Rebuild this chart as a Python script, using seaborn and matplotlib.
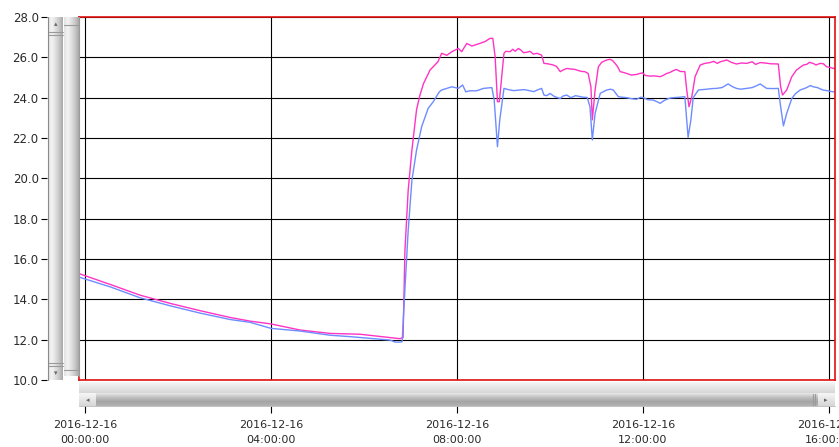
import numpy as np
import pandas as pd
import matplotlib
matplotlib.use("Agg")
import matplotlib.pyplot as plt
import seaborn as sns
from matplotlib.colors import LinearSegmentedColormap

# ---- data (hours since 2016-12-16 00:00:00, temperature) ----
t_mag = [-0.11, 0.54, 1.18, 1.83, 2.47, 3.12, 3.55, 4.00, 4.62, 5.27, 5.91, 6.56, 6.77, 6.84,
         6.88, 6.95, 7.03, 7.13, 7.20, 7.28, 7.42, 7.59, 7.67, 7.78, 7.89, 8.03, 8.10, 8.21,
         8.32, 8.49, 8.60, 8.71, 8.77, 8.82, 8.87, 8.91, 9.01, 9.14, 9.32, 9.43, 9.64, 9.82,
         9.87, 10.07, 10.22, 10.36, 10.54, 10.75, 10.82, 10.88, 10.91, 10.97, 11.04, 11.18,
         11.29, 11.40, 11.51, 11.65, 11.86, 11.99, 12.15, 12.37, 12.51, 12.65, 12.90, 12.94,
         12.99, 13.05, 13.12, 13.23, 13.44, 13.66, 13.80, 14.01, 14.23, 14.52, 14.91, 14.96,
         15.00, 15.09, 15.20, 15.30, 15.45, 15.66, 15.81, 15.95, 16.09, 16.15,
         9.05, 9.20, 9.25, 9.38, 9.50, 9.57, 9.72, 9.95, 10.14, 10.29, 10.45, 10.60, 10.68,
         11.11, 11.24, 11.34, 11.45, 11.58, 11.75, 11.93, 12.05, 12.25, 12.43, 12.58, 12.72,
         12.80, 13.33, 13.52, 13.60, 13.73, 13.90, 14.12, 14.35, 14.42, 14.62, 14.75, 15.52,
         15.58, 15.72, 15.88, 16.02]
v_mag = [15.26, 14.74, 14.21, 13.80, 13.44, 13.10, 12.92, 12.78, 12.48, 12.31, 12.27, 12.10, 12.05, 12.10,
         16.40, 19.40, 21.40, 23.40, 24.10, 24.70, 25.37, 25.78, 26.20, 26.10, 26.28, 26.44, 26.28, 26.69,
         26.56, 26.69, 26.78, 26.94, 26.94, 26.03, 23.80, 23.80, 26.20, 26.28, 26.44, 26.23, 26.16, 26.11,
         25.70, 25.62, 25.29, 25.45, 25.40, 25.29, 25.20, 24.54, 22.90, 24.38, 25.53, 25.83,
         25.90, 25.70, 25.29, 25.20, 25.15, 25.23, 25.07, 25.04, 25.20, 25.34, 25.29, 24.38,
         23.55, 24.05, 25.04, 25.62, 25.74, 25.78, 25.87, 25.67, 25.70, 25.74, 25.67, 24.54,
         24.13, 24.38, 25.04, 25.37, 25.62, 25.70, 25.70, 25.53, 25.45, 25.45,
         26.30, 26.40, 26.30, 26.35, 26.25, 26.30, 26.20, 25.68, 25.55, 25.38, 25.42, 25.35, 25.30,
         25.75, 25.88, 25.85, 25.55, 25.25, 25.12, 25.20, 25.10, 25.08, 25.10, 25.25, 25.40,
         25.30, 25.70, 25.80, 25.70, 25.82, 25.75, 25.72, 25.78, 25.65, 25.72, 25.68, 25.65,
         25.75, 25.62, 25.68, 25.50]

t_blu = [-0.11, 0.54, 1.18, 1.83, 2.47, 3.12, 3.55, 4.00, 4.62, 5.27, 5.70, 6.56, 6.67, 6.77, 6.82,
         6.88, 6.95, 7.03, 7.13, 7.24, 7.38, 7.49, 7.62, 7.67, 7.89, 8.03, 8.12, 8.19, 8.28,
         8.42, 8.57, 8.75, 8.80, 8.87, 8.92, 9.01, 9.14, 9.35, 9.57, 9.82, 9.87, 10.00, 10.22,
         10.36, 10.65, 10.80, 10.86, 10.91, 10.97, 11.08, 11.22, 11.36, 11.47, 11.65, 11.86,
         12.01, 12.22, 12.37, 12.51, 12.65, 12.90, 12.94, 12.97, 13.03, 13.08, 13.19, 13.37,
         13.58, 13.83, 14.01, 14.23, 14.52, 14.66, 14.91, 14.96, 15.02, 15.09, 15.20, 15.38,
         15.66, 15.87, 16.09, 16.15,
         9.07, 9.22, 9.45, 9.65, 9.75, 9.93, 10.10, 10.28, 10.45, 10.55, 10.72, 11.15, 11.30,
         11.55, 11.75, 11.95, 12.10, 12.30, 12.45, 12.58, 12.78, 13.28, 13.48, 13.70, 13.92,
         14.10, 14.35, 14.45, 14.60, 14.80, 15.28, 15.50, 15.60, 15.75, 15.95]
v_blu = [15.09, 14.62, 14.08, 13.68, 13.32, 13.00, 12.86, 12.56, 12.43, 12.22, 12.15, 11.98, 11.88, 11.88, 11.90,
         14.50, 17.40, 19.90, 21.40, 22.56, 23.47, 23.80, 24.29, 24.38, 24.54, 24.46, 24.63, 24.29, 24.34,
         24.34, 24.46, 24.50, 23.88, 21.57, 22.90, 24.46, 24.38, 24.38, 24.34, 24.46, 24.13, 24.21, 23.96,
         24.13, 24.05, 24.01, 23.55, 21.90, 23.22, 24.21, 24.38, 24.38, 24.05, 24.00, 23.92,
         24.00, 23.88, 23.72, 23.92, 24.00, 24.05, 22.90, 22.03, 22.90, 24.00, 24.38, 24.42,
         24.46, 24.68, 24.46, 24.46, 24.68, 24.46, 24.46, 23.55, 22.60, 23.22, 23.96, 24.38,
         24.54, 24.38, 24.29, 24.29,
         24.42, 24.35, 24.40, 24.30, 24.40, 24.10, 24.05, 24.08, 24.00, 24.10, 24.02, 24.30, 24.42,
         24.02, 23.95, 24.02, 23.90, 23.80, 23.85, 23.98, 24.02, 24.40, 24.45, 24.50, 24.55,
         24.42, 24.50, 24.60, 24.55, 24.45, 24.20, 24.48, 24.60, 24.50, 24.35]

x_ticks = [0, 4, 8, 12, 16]
x_labels = ["2016-12-16\n00:00:00", "2016-12-16\n04:00:00", "2016-12-16\n08:00:00",
            "2016-12-16\n12:00:00", "2016-12-16\n16:00:00"]
y_ticks = [10, 12, 14, 16, 18, 20, 22, 24, 26, 28]
y_labels = ["10.0", "12.0", "14.0", "16.0", "18.0", "20.0", "22.0", "24.0", "26.0", "28.0"]

df = pd.concat([
    pd.DataFrame({"t": t_mag, "v": v_mag, "s": "A"}),
    pd.DataFrame({"t": t_blu, "v": v_blu, "s": "B"}),
])

sns.set_theme(style="white")
plt.rcParams['font.family'] = ['DejaVu Sans']

W, H = 839, 447
fig = plt.figure(figsize=(W / 100, H / 100), dpi=100)
fig.patch.set_facecolor("white")

def fa(x0, y0, x1, y1):
    return [x0 / W, 1 - y1 / H, (x1 - x0) / W, (y1 - y0) / H]

PL, PR, PT, PB = 79, 835, 17, 380
xmin = (PL - 85) / 46.5
xmax = (PR - 85) / 46.5

ax = fig.add_axes(fa(PL, PT, PR, PB))
sns.lineplot(data=df, x="t", y="v", hue="s", palette={"A": "#ff33c4", "B": "#6d8cff"},
             linewidth=1.0, legend=False, ax=ax, estimator=None, sort=True)
ax.set_xlim(xmin, xmax)
ax.set_ylim(10, 28)
ax.set_xticks(x_ticks)
ax.set_yticks(y_ticks)
ax.set_xticklabels([])
ax.set_yticklabels([])
ax.tick_params(length=0)
ax.set_xlabel("")
ax.set_ylabel("")
ax.grid(True, color="black", linewidth=0.8, zorder=0)
ax.set_axisbelow(True)
for s in ["top", "bottom", "right", "left"]:
    ax.spines[s].set_color("#e01010")
    ax.spines[s].set_linewidth(1.2)

# y tick labels axis (left of the scrollbars)
yax = fig.add_axes(fa(47, PT, 48, PB))
yax.set_ylim(10, 28)
yax.set_yticks(y_ticks)
yax.set_yticklabels(y_labels, fontsize=8.5, color="#2a2a2a")
yax.set_xticks([])
yax.tick_params(axis="y", length=4, width=0.8, color="black", pad=2, left=True)
for s in yax.spines.values():
    s.set_visible(False)
yax.patch.set_visible(False)

# x tick labels axis (below the horizontal scrollbar)
xax = fig.add_axes(fa(PL, 405, PR, 406))
xax.set_xlim(xmin, xmax)
xax.set_xticks(x_ticks)
xax.set_xticklabels(x_labels, fontsize=8, color="#2a2a2a", linespacing=1.7)
xax.set_yticks([])
xax.tick_params(axis="x", length=5, width=0.8, color="black", pad=5, bottom=True)
for s in xax.spines.values():
    s.set_visible(False)
xax.patch.set_visible(False)

# decorative scrollbars (overlay in pixel coordinates)
ov = fig.add_axes([0, 0, 1, 1], zorder=5)
ov.set_xlim(0, W)
ov.set_ylim(H, 0)
ov.axis("off")
ov.patch.set_visible(False)
cm_v = LinearSegmentedColormap.from_list("v", ["#e2e2e2", "#f4f4f4", "#e0e0e0", "#c8c8c8", "#a8a8a8"])
cm_h = LinearSegmentedColormap.from_list("h", ["#f6f6f6", "#e6e6e6", "#d6d6d6"])
cm_t = LinearSegmentedColormap.from_list("t", ["#e8e8e8", "#c0c0c0", "#a4a4a4", "#b4b4b4"])
grad = np.linspace(0, 1, 64)[None, :]
gradv = np.linspace(0, 1, 64)[:, None]
ov.imshow(grad, cmap=cm_v, extent=(48, 63, PB, PT), aspect="auto")
ov.imshow(grad, cmap=cm_v, extent=(63.5, 78.5, PB - 4, PT), aspect="auto")
for yy in (32, 35, 363, 366):
    ov.plot([48.5, 62.5], [yy, yy], color="#9a9a9a", lw=0.8)
for yy in (25, 370):
    ov.plot([64, 78], [yy, yy], color="#9a9a9a", lw=0.8)
ov.text(55.5, 24, "\u25b4", fontsize=5, color="#666", ha="center", va="center")
ov.text(55.5, 373, "\u25be", fontsize=5, color="#666", ha="center", va="center")
ov.plot([48, 48], [PT, PB], color="#8a8a8a", lw=0.8)
ov.plot([78.5, 78.5], [PT, PB - 4], color="#9a9a9a", lw=0.8)
ov.imshow(gradv, cmap=cm_h, extent=(PL, PR, 393, 382), aspect="auto")
ov.imshow(gradv, cmap=cm_t, extent=(96, 818, 406, 393), aspect="auto")
ov.imshow(gradv, cmap=cm_h, extent=(PL, 96, 406, 393), aspect="auto")
ov.imshow(gradv, cmap=cm_h, extent=(818, PR, 406, 393), aspect="auto")
ov.text(88, 400, "\u25c2", fontsize=5, color="#666", ha="center", va="center")
ov.text(826, 400, "\u25b8", fontsize=5, color="#666", ha="center", va="center")
for xx in (813, 815):
    ov.plot([xx, xx], [394, 405], color="#9a9a9a", lw=0.8)
ov.plot([PL, PR], [406, 406], color="#b8b8b8", lw=0.6)

fig.savefig("out.png", dpi=100)
